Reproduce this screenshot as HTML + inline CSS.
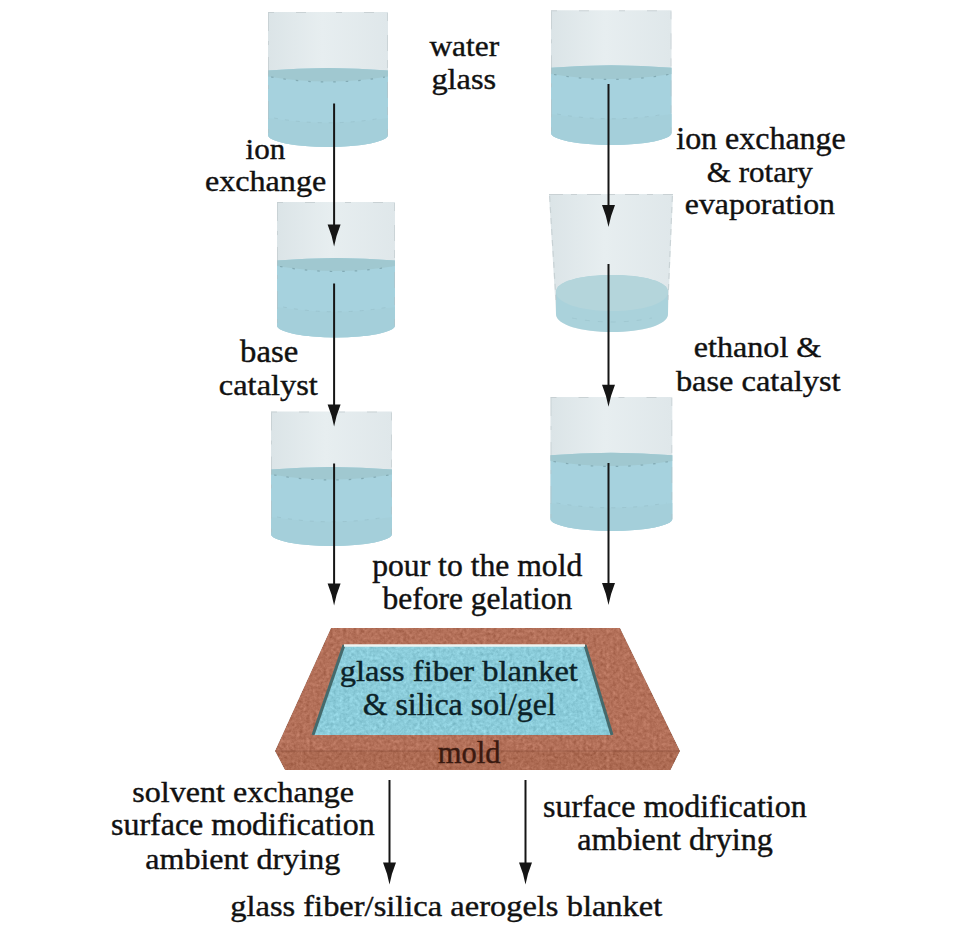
<!DOCTYPE html>
<html><head><meta charset="utf-8"><style>
html,body{margin:0;padding:0;background:#fff;}
svg{display:block;}
text{font-family:"Liberation Serif",serif;}
</style></head><body>
<svg width="957" height="932" viewBox="0 0 957 932">
<defs>
<filter id="noise" x="0" y="0" width="100%" height="100%" color-interpolation-filters="sRGB">
 <feTurbulence type="fractalNoise" baseFrequency="0.3" numOctaves="3" seed="11" result="n"/>
 <feColorMatrix in="n" type="matrix" values="0.33 0.33 0.33 0 0  0.33 0.33 0.33 0 0  0.33 0.33 0.33 0 0  0 0 0 0 1" result="g"/>
 <feComposite in="SourceGraphic" in2="g" operator="arithmetic" k1="0" k2="1" k3="0.34" k4="-0.18" result="c"/>
 <feComposite in="c" in2="SourceGraphic" operator="in"/>
</filter>
<linearGradient id="glassg" x1="0" x2="1" y1="0" y2="0">
 <stop offset="0" stop-color="#dbe4e7"/><stop offset="0.45" stop-color="#e7eef0"/><stop offset="1" stop-color="#dfe7ea"/>
</linearGradient>
</defs>
<path d="M268,12 L388,12 L388,135 A60.0,12 0 0 1 268,135 Z" fill="url(#glassg)"/>
<path d="M268,70.5 Q328.0,65.5 388,70.5 L388,135 A60.0,12 0 0 1 268,135 Z" fill="#a6d2de"/>
<path d="M268,118 Q328.0,127.6 388,118 L388,135 A60.0,12 0 0 1 268,135 Z" fill="#a4cfda"/>
<path d="M274,118 Q328.0,127.6 382,118" fill="none" stroke="#96bec8" stroke-width="1" stroke-dasharray="4 7" opacity="0.6"/>
<path d="M268,70.5 Q328.0,65.5 388,70.5 L388,76.5 Q328.0,86.5 268,76.5 Z" fill="#a0c8d0"/>
<path d="M271,77.0 Q328.0,87.0 385,77.0" fill="none" stroke="#7aa1aa" stroke-width="1.2" stroke-dasharray="2.5 10" opacity="0.8"/>
<path d="M268.5,13 L268.5,135" stroke="#b4bec1" stroke-width="1" stroke-dasharray="18 10 4 12" opacity="0.45"/>
<path d="M387.5,13 L387.5,135" stroke="#b4bec1" stroke-width="1" stroke-dasharray="8 14 16 9" opacity="0.45"/>
<path d="M268,12.5 L388,12.5" stroke="#bfc8cb" stroke-width="1" stroke-dasharray="6 22 10 30" opacity="0.7"/>
<path d="M277,202 L395,202 L395,325.5 A59.0,12 0 0 1 277,325.5 Z" fill="url(#glassg)"/>
<path d="M277,260.5 Q336.0,255.5 395,260.5 L395,325.5 A59.0,12 0 0 1 277,325.5 Z" fill="#a6d2de"/>
<path d="M277,307 Q336.0,316.6 395,307 L395,325.5 A59.0,12 0 0 1 277,325.5 Z" fill="#a4cfda"/>
<path d="M283,307 Q336.0,316.6 389,307" fill="none" stroke="#96bec8" stroke-width="1" stroke-dasharray="4 7" opacity="0.6"/>
<path d="M277,260.5 Q336.0,255.5 395,260.5 L395,266 Q336.0,276 277,266 Z" fill="#a0c8d0"/>
<path d="M280,266.5 Q336.0,276.5 392,266.5" fill="none" stroke="#7aa1aa" stroke-width="1.2" stroke-dasharray="2.5 10" opacity="0.8"/>
<path d="M277.5,203 L277.5,325.5" stroke="#b4bec1" stroke-width="1" stroke-dasharray="18 10 4 12" opacity="0.45"/>
<path d="M394.5,203 L394.5,325.5" stroke="#b4bec1" stroke-width="1" stroke-dasharray="8 14 16 9" opacity="0.45"/>
<path d="M277,202.5 L395,202.5" stroke="#bfc8cb" stroke-width="1" stroke-dasharray="6 22 10 30" opacity="0.7"/>
<path d="M271,411.5 L392,411.5 L392,534 A60.5,12 0 0 1 271,534 Z" fill="url(#glassg)"/>
<path d="M271,469.5 Q331.5,464.5 392,469.5 L392,534 A60.5,12 0 0 1 271,534 Z" fill="#a6d2de"/>
<path d="M271,517 Q331.5,526.6 392,517 L392,534 A60.5,12 0 0 1 271,534 Z" fill="#a4cfda"/>
<path d="M277,517 Q331.5,526.6 386,517" fill="none" stroke="#96bec8" stroke-width="1" stroke-dasharray="4 7" opacity="0.6"/>
<path d="M271,469.5 Q331.5,464.5 392,469.5 L392,474.5 Q331.5,484.5 271,474.5 Z" fill="#a0c8d0"/>
<path d="M274,475.0 Q331.5,485.0 389,475.0" fill="none" stroke="#7aa1aa" stroke-width="1.2" stroke-dasharray="2.5 10" opacity="0.8"/>
<path d="M271.5,412.5 L271.5,534" stroke="#b4bec1" stroke-width="1" stroke-dasharray="18 10 4 12" opacity="0.45"/>
<path d="M391.5,412.5 L391.5,534" stroke="#b4bec1" stroke-width="1" stroke-dasharray="8 14 16 9" opacity="0.45"/>
<path d="M271,412.0 L392,412.0" stroke="#bfc8cb" stroke-width="1" stroke-dasharray="6 22 10 30" opacity="0.7"/>
<path d="M551,10.3 L671.5,10.3 L671.5,133 A60.25,12 0 0 1 551,133 Z" fill="url(#glassg)"/>
<path d="M551,67.7 Q611.25,62.7 671.5,67.7 L671.5,133 A60.25,12 0 0 1 551,133 Z" fill="#a6d2de"/>
<path d="M551,114 Q611.25,123.6 671.5,114 L671.5,133 A60.25,12 0 0 1 551,133 Z" fill="#a4cfda"/>
<path d="M557,114 Q611.25,123.6 665.5,114" fill="none" stroke="#96bec8" stroke-width="1" stroke-dasharray="4 7" opacity="0.6"/>
<path d="M551,67.7 Q611.25,62.7 671.5,67.7 L671.5,74 Q611.25,84 551,74 Z" fill="#a0c8d0"/>
<path d="M554,74.5 Q611.25,84.5 668.5,74.5" fill="none" stroke="#7aa1aa" stroke-width="1.2" stroke-dasharray="2.5 10" opacity="0.8"/>
<path d="M551.5,11.3 L551.5,133" stroke="#b4bec1" stroke-width="1" stroke-dasharray="18 10 4 12" opacity="0.45"/>
<path d="M671.0,11.3 L671.0,133" stroke="#b4bec1" stroke-width="1" stroke-dasharray="8 14 16 9" opacity="0.45"/>
<path d="M551,10.8 L671.5,10.8" stroke="#bfc8cb" stroke-width="1" stroke-dasharray="6 22 10 30" opacity="0.7"/>
<path d="M549,194 L673,194 L668,314 C668,325 642,332 612,332 C582,332 556,325 556,314 Z" fill="url(#glassg)"/>
<path d="M556,292 C556,281 582,275 612,275 C642,275 668,281 668,292 L668,314 C668,325 642,332 612,332 C582,332 556,325 556,314 Z" fill="#aad2db"/>
<path d="M556,292 C556,281 582,275 612,275 C642,275 668,281 668,292 C668,303 644,311 612,311 C580,311 556,303 556,292 Z" fill="#b4d5db"/>
<path d="M572,318 Q612,326 652,318" stroke="#9ec5ce" stroke-width="1" fill="none" stroke-dasharray="5 8" opacity="0.8"/>
<path d="M549.6,196 L556,300" stroke="#bcc6c9" stroke-width="1.2" stroke-dasharray="6 5" opacity="0.6"/>
<path d="M672.4,196 L668,300" stroke="#bcc6c9" stroke-width="1.2" stroke-dasharray="6 5" opacity="0.6"/>
<path d="M549,194.5 L673,194.5" stroke="#c9d1d4" stroke-width="1.2" stroke-dasharray="14 8 6 10"/>
<path d="M550.5,397 L672.3,397 L672.3,519 A60.89999999999998,12 0 0 1 550.5,519 Z" fill="url(#glassg)"/>
<path d="M550.5,455.2 Q611.4,450.2 672.3,455.2 L672.3,519 A60.89999999999998,12 0 0 1 550.5,519 Z" fill="#a6d2de"/>
<path d="M550.5,503 Q611.4,512.6 672.3,503 L672.3,519 A60.89999999999998,12 0 0 1 550.5,519 Z" fill="#a4cfda"/>
<path d="M556.5,503 Q611.4,512.6 666.3,503" fill="none" stroke="#96bec8" stroke-width="1" stroke-dasharray="4 7" opacity="0.6"/>
<path d="M550.5,455.2 Q611.4,450.2 672.3,455.2 L672.3,461 Q611.4,471 550.5,461 Z" fill="#a0c8d0"/>
<path d="M553.5,461.5 Q611.4,471.5 669.3,461.5" fill="none" stroke="#7aa1aa" stroke-width="1.2" stroke-dasharray="2.5 10" opacity="0.8"/>
<path d="M551.0,398 L551.0,519" stroke="#b4bec1" stroke-width="1" stroke-dasharray="18 10 4 12" opacity="0.45"/>
<path d="M671.8,398 L671.8,519" stroke="#b4bec1" stroke-width="1" stroke-dasharray="8 14 16 9" opacity="0.45"/>
<path d="M550.5,397.5 L672.3,397.5" stroke="#bfc8cb" stroke-width="1" stroke-dasharray="6 22 10 30" opacity="0.7"/>
<path d="M334.1,103.5 L334.1,227.5" stroke="#151515" stroke-width="2"/><path d="M327.6,224.5 L340.6,224.5 Q336.1,235.5 334.1,246.5 Q332.1,235.5 327.6,224.5 Z" fill="#151515"/>
<path d="M334.1,283.5 L334.1,407.5" stroke="#151515" stroke-width="2"/><path d="M327.6,404.5 L340.6,404.5 Q336.1,415.5 334.1,426.5 Q332.1,415.5 327.6,404.5 Z" fill="#151515"/>
<path d="M334.1,463.5 L334.1,586.5" stroke="#151515" stroke-width="2"/><path d="M327.6,583.5 L340.6,583.5 Q336.1,594.5 334.1,605.5 Q332.1,594.5 327.6,583.5 Z" fill="#151515"/>
<path d="M608.5,84 L608.5,208" stroke="#151515" stroke-width="2"/><path d="M602.0,205 L615.0,205 Q610.5,216.0 608.5,227 Q606.5,216.0 602.0,205 Z" fill="#151515"/>
<path d="M608.5,264 L608.5,387.8" stroke="#151515" stroke-width="2"/><path d="M602.0,384.8 L615.0,384.8 Q610.5,395.8 608.5,406.8 Q606.5,395.8 602.0,384.8 Z" fill="#151515"/>
<path d="M608.5,463 L608.5,586" stroke="#151515" stroke-width="2"/><path d="M602.0,583 L615.0,583 Q610.5,594.0 608.5,605 Q606.5,594.0 602.0,583 Z" fill="#151515"/>
<path d="M389.5,780 L389.5,865.5" stroke="#151515" stroke-width="2"/><path d="M383.0,862.5 L396.0,862.5 Q391.5,873.5 389.5,884.5 Q387.5,873.5 383.0,862.5 Z" fill="#151515"/>
<path d="M525.5,780 L525.5,865.5" stroke="#151515" stroke-width="2"/><path d="M519.0,862.5 L532.0,862.5 Q527.5,873.5 525.5,884.5 Q523.5,873.5 519.0,862.5 Z" fill="#151515"/>
<g filter="url(#noise)">
<path d="M331,628 L620,628 L680,751 L275,751 Z" fill="#b6735c"/>
<path d="M275,751 L680,751 L670.5,770 L285,770 Z" fill="#b06e56"/>
<path d="M344,645 L585,645 L612,735 L313,735 Z" fill="#8ecfdd"/>
</g>
<path d="M344,645 L313,735" stroke="#456a6c" stroke-width="3"/>
<path d="M585,645 L612,735" stroke="#456a6c" stroke-width="3"/>
<path d="M344,645.5 L585,645.5" stroke="#eef4f2" stroke-width="2.5"/>
<path d="M275,751 L680,751" stroke="#8a4f3a" stroke-width="1" opacity="0.6"/>
<g font-family="Liberation Serif" font-size="30.5" stroke-width="0.4">
<text x="0" y="0" transform="translate(429.40,55.60) scale(1.0290,1)" fill="#111" stroke="#111">water</text>
<text x="0" y="0" transform="translate(431.41,88.80) scale(1.0613,1)" fill="#111" stroke="#111">glass</text>
<text x="0" y="0" transform="translate(245.58,158.50) scale(1.0195,1)" fill="#111" stroke="#111">ion</text>
<text x="0" y="0" transform="translate(205.04,190.70) scale(1.0530,1)" fill="#111" stroke="#111">exchange</text>
<text x="0" y="0" transform="translate(676.26,148.80) scale(1.0481,1)" fill="#111" stroke="#111">ion exchange</text>
<text x="0" y="0" transform="translate(706.77,181.50) scale(1.0188,1)" fill="#111" stroke="#111">&amp; rotary</text>
<text x="0" y="0" transform="translate(684.85,214.30) scale(1.0431,1)" fill="#111" stroke="#111">evaporation</text>
<text x="0" y="0" transform="translate(240.10,362.00) scale(1.0722,1)" fill="#111" stroke="#111">base</text>
<text x="0" y="0" transform="translate(218.83,395.20) scale(1.0639,1)" fill="#111" stroke="#111">catalyst</text>
<text x="0" y="0" transform="translate(693.84,356.80) scale(1.0530,1)" fill="#111" stroke="#111">ethanol &amp;</text>
<text x="0" y="0" transform="translate(675.90,390.50) scale(1.0630,1)" fill="#111" stroke="#111">base catalyst</text>
<text x="0" y="0" transform="translate(372.18,575.90) scale(1.0379,1)" fill="#111" stroke="#111">pour to the mold</text>
<text x="0" y="0" transform="translate(382.60,609.00) scale(1.0324,1)" fill="#111" stroke="#111">before gelation</text>
<text x="0" y="0" transform="translate(339.80,681.00) scale(1.0650,1)" fill="#0c2228" stroke="#0c2228">glass fiber blanket</text>
<text x="0" y="0" transform="translate(362.64,714.60) scale(1.0463,1)" fill="#0c2228" stroke="#0c2228">&amp; silica sol/gel</text>
<text x="0" y="0" transform="translate(437.79,762.60) scale(1.0003,1)" fill="#3a1a10" stroke="#3a1a10">mold</text>
<text x="0" y="0" transform="translate(132.32,801.90) scale(1.0516,1)" fill="#111" stroke="#111">solvent exchange</text>
<text x="0" y="0" transform="translate(111.02,835.00) scale(1.0484,1)" fill="#111" stroke="#111">surface modification</text>
<text x="0" y="0" transform="translate(145.24,868.60) scale(1.0516,1)" fill="#111" stroke="#111">ambient drying</text>
<text x="0" y="0" transform="translate(543.12,817.20) scale(1.0484,1)" fill="#111" stroke="#111">surface modification</text>
<text x="0" y="0" transform="translate(577.34,850.00) scale(1.0544,1)" fill="#111" stroke="#111">ambient drying</text>
<text x="0" y="0" transform="translate(230.20,916.30) scale(1.0655,1)" fill="#111" stroke="#111">glass fiber/silica aerogels blanket</text>
</g>
</svg></body></html>
